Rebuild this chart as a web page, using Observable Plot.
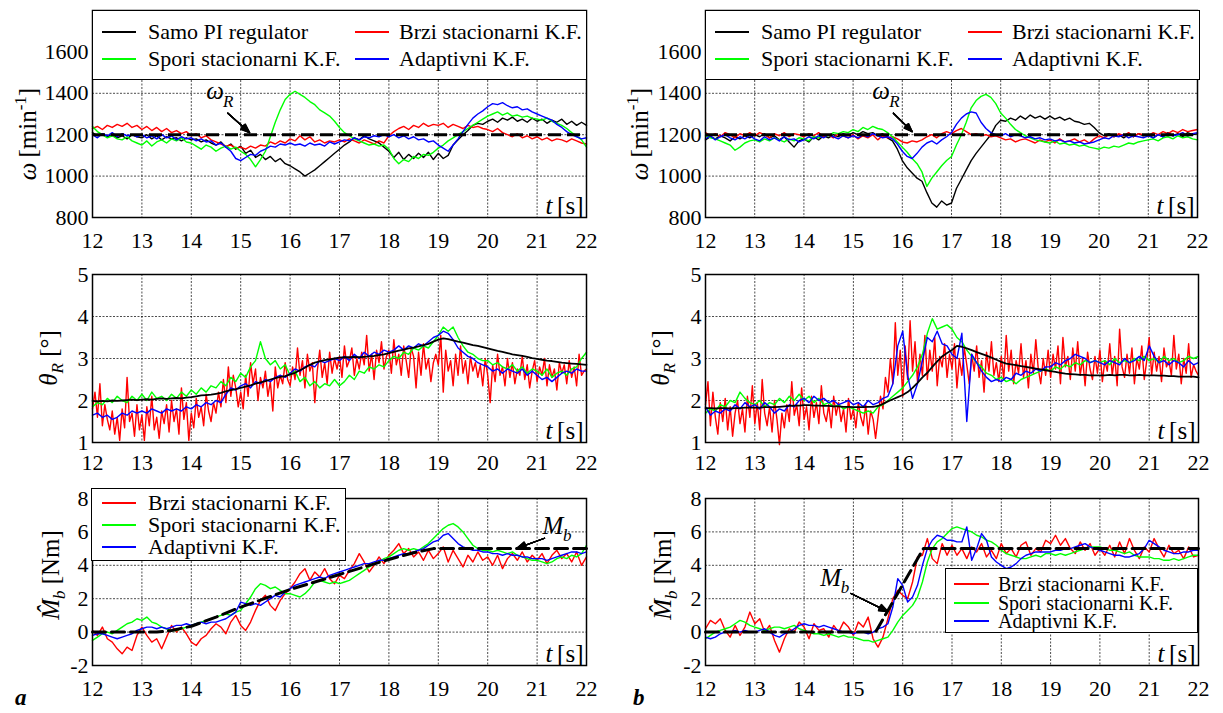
<!DOCTYPE html>
<html><head><meta charset="utf-8">
<script src="https://cdn.jsdelivr.net/npm/d3@7"></script>
<script src="https://cdn.jsdelivr.net/npm/@observablehq/plot@0.6"></script>
<style>
body{margin:0;background:#fff;}
#wrap{position:relative;width:1223px;height:713px;overflow:hidden;font-family:"Liberation Serif","Tinos","DejaVu Serif","Noto Serif",Times,serif;color:#000;background:#fff;}
.leg{position:absolute;background:#fff;border:1.5px solid #000;box-sizing:border-box;}
.item{position:absolute;white-space:nowrap;line-height:0.85;font-size:22px;transform:translateY(-50%);}
.sw{position:absolute;height:0;border-top:2px solid;transform:translateY(-1px);}
.ylab{position:absolute;white-space:nowrap;transform:translate(-50%,-50%) rotate(-90deg);font-size:25px;line-height:1;}
.ylab sub,.ylab sup{font-size:68%;}
.tag{position:absolute;font-weight:bold;font-style:italic;font-size:23px;line-height:1;}
</style></head><body><div id="wrap"></div>
<script>
// ---------- axes / ticks ----------
const xTicks = [12,13,14,15,16,17,18,19,20,21,22];
const omegaTicks = [800,1000,1200,1400,1600];
const thetaTicks = [1,2,3,4,5];
const torqueTicks = [-2,0,2,4,6,8];
const T0 = 12, DT = 0.1, DT_FINE = 0.05;
const omegaRef = 1200;
const legendLabels = ["Samo PI regulator","Brzi stacionarni K.F.","Spori stacionarni K.F.","Adaptivni K.F."];
const colPI = "#000000", colFast = "#ff0000", colSlow = "#00ff00", colAdapt = "#0000ff";

// ---------- (a) omega [min^-1], step 0.1 s ----------
const omegaA_pi = [1210,1195,1205,1190,1200,1185,1195,1180,1200,1190,
1185,1200,1180,1195,1175,1190,1180,1185,1170,1185,
1175,1180,1165,1175,1160,1150,1165,1140,1155,1130,
1145,1110,1125,1090,1105,1080,1095,1070,1085,1060,
1050,1035,1020,1000,1015,1030,1050,1070,1090,1110,
1130,1150,1165,1185,1175,1195,1180,1170,1160,1140,
1120,1090,1115,1080,1105,1085,1110,1090,1115,1080,
1110,1085,1100,1150,1175,1200,1220,1245,1255,1250,
1265,1275,1260,1280,1270,1285,1265,1275,1260,1280,
1265,1275,1255,1270,1260,1275,1250,1265,1245,1260,1245];
const omegaA_fast = [1230,1240,1225,1245,1235,1250,1240,1255,1235,1245,
1225,1240,1220,1235,1215,1230,1210,1220,1205,1215,
1195,1205,1185,1195,1175,1165,1155,1145,1150,1135,
1140,1130,1145,1135,1150,1145,1165,1155,1170,1160,
1180,1170,1195,1175,1190,1165,1175,1160,1170,1165,
1175,1165,1180,1170,1160,1175,1165,1155,1170,1160,
1195,1215,1230,1240,1225,1245,1235,1255,1240,1250,
1245,1255,1235,1250,1240,1230,1245,1235,1240,1230,
1225,1215,1230,1210,1200,1190,1205,1185,1195,1180,
1190,1175,1185,1170,1180,1175,1165,1180,1170,1160,1155];
const omegaA_slow = [1240,1215,1200,1185,1195,1180,1175,1190,1170,1160,
1150,1170,1145,1165,1175,1160,1180,1170,1185,1165,
1160,1145,1130,1150,1140,1120,1135,1145,1130,1140,
1120,1105,1080,1045,1080,1120,1190,1260,1320,1370,
1395,1410,1395,1380,1360,1345,1320,1305,1290,1265,
1235,1210,1195,1180,1170,1160,1150,1155,1145,1150,
1130,1085,1060,1080,1070,1095,1085,1105,1100,1115,
1135,1150,1170,1185,1200,1215,1230,1245,1260,1275,
1290,1300,1310,1295,1305,1290,1295,1285,1290,1280,
1275,1270,1280,1265,1255,1245,1230,1210,1195,1175,1140];
const omegaA_adapt = [1200,1185,1205,1195,1210,1190,1205,1195,1200,1190,
1200,1185,1195,1180,1200,1185,1195,1175,1190,1180,
1185,1170,1180,1165,1170,1150,1160,1140,1120,1085,
1075,1090,1105,1100,1120,1130,1145,1140,1155,1150,
1160,1150,1155,1145,1160,1150,1155,1145,1165,1155,
1165,1175,1170,1185,1175,1190,1185,1195,1190,1200,
1190,1200,1185,1195,1180,1190,1175,1180,1165,1170,
1150,1135,1120,1150,1180,1215,1250,1280,1300,1315,
1335,1350,1345,1355,1340,1330,1335,1320,1325,1310,
1300,1290,1280,1270,1250,1235,1215,1200,1190,1180,1185];

// ---------- (b) omega ----------
const omegaB_pi = [1175,1190,1180,1195,1185,1170,1190,1180,1195,1185,
1200,1190,1205,1185,1195,1175,1190,1165,1140,1170,
1180,1165,1190,1175,1195,1185,1200,1190,1205,1195,
1210,1200,1215,1205,1210,1195,1205,1185,1170,1130,
1075,1040,1015,990,975,920,870,850,880,860,
870,940,985,1030,1075,1110,1140,1170,1200,1245,
1270,1265,1280,1270,1290,1275,1295,1280,1290,1275,
1290,1275,1285,1270,1280,1265,1260,1250,1255,1235,
1210,1195,1205,1190,1200,1185,1200,1190,1205,1195,
1200,1185,1200,1190,1210,1195,1205,1190,1210,1200,1205];
const omegaB_fast = [1210,1195,1205,1190,1210,1200,1185,1205,1195,1210,
1195,1210,1200,1185,1205,1195,1210,1190,1205,1200,
1190,1205,1195,1210,1190,1200,1185,1205,1195,1185,
1200,1180,1195,1185,1200,1175,1195,1185,1190,1180,
1165,1160,1170,1165,1175,1190,1200,1185,1205,1215,
1205,1220,1230,1215,1200,1205,1195,1200,1190,1195,
1185,1175,1180,1165,1175,1180,1170,1160,1175,1165,
1175,1160,1180,1165,1170,1180,1165,1175,1160,1180,
1195,1185,1200,1190,1205,1195,1210,1190,1205,1200,
1195,1210,1200,1215,1205,1220,1210,1225,1215,1220,1225];
const omegaB_slow = [1195,1185,1180,1170,1160,1150,1125,1140,1160,1170,
1175,1165,1180,1170,1185,1175,1165,1180,1170,1185,
1180,1170,1190,1185,1200,1195,1210,1205,1215,1210,
1225,1215,1235,1225,1240,1230,1225,1210,1190,1165,
1140,1115,1085,1060,1020,950,990,1020,1050,1075,
1095,1150,1200,1260,1330,1365,1385,1395,1380,1350,
1305,1280,1250,1225,1210,1195,1185,1175,1170,1165,
1160,1170,1155,1160,1150,1155,1145,1150,1140,1135,
1130,1140,1135,1145,1140,1150,1160,1155,1165,1170,
1175,1180,1170,1185,1190,1180,1195,1185,1190,1180,1175];
const omegaB_adapt = [1180,1195,1175,1190,1200,1185,1175,1190,1180,1195,
1180,1170,1190,1175,1185,1170,1190,1175,1180,1165,
1175,1190,1180,1195,1185,1200,1190,1180,1195,1185,
1195,1185,1200,1190,1205,1195,1185,1190,1180,1155,
1120,1095,1085,1110,1140,1160,1170,1155,1175,1190,
1210,1250,1280,1300,1310,1305,1260,1230,1210,1200,
1195,1205,1190,1200,1195,1185,1190,1180,1185,1175,
1180,1170,1175,1165,1170,1160,1165,1155,1160,1165,
1175,1185,1180,1195,1190,1200,1185,1195,1190,1185,
1195,1185,1200,1190,1205,1195,1200,1210,1195,1205,1210];

// ---------- (a) theta_R [deg] ----------
const thetaA_pi = [1.99,1.98,1.99,1.98,2.00,1.99,2.00,2.01,2.02,2.01,
2.02,2.03,2.02,2.04,2.05,2.04,2.05,2.06,2.05,2.07,
2.08,2.10,2.12,2.13,2.14,2.16,2.18,2.22,2.25,2.27,
2.30,2.33,2.36,2.40,2.43,2.46,2.50,2.53,2.56,2.58,
2.62,2.66,2.72,2.78,2.85,2.90,2.93,2.96,2.98,3.00,
3.02,3.03,3.03,3.04,3.03,3.04,3.05,3.06,3.08,3.10,
3.13,3.16,3.19,3.21,3.24,3.26,3.29,3.32,3.35,3.40,
3.45,3.48,3.46,3.43,3.40,3.38,3.35,3.32,3.30,3.27,
3.24,3.21,3.18,3.16,3.13,3.10,3.08,3.06,3.04,3.01,
2.99,2.97,2.95,2.94,2.92,2.90,2.89,2.88,2.87,2.86,2.85];
const thetaA_fast = [1.80,2.20,1.60,2.40,1.40,1.90,1.55,1.30,1.75,1.20,
1.60,1.05,1.80,1.35,2.55,1.50,1.70,1.15,1.90,1.30,
1.65,1.05,1.85,1.40,2.10,1.30,1.60,1.10,1.75,1.45,
1.90,1.25,2.00,1.50,1.80,1.20,2.30,1.55,1.95,1.05,
1.70,1.35,2.05,1.60,1.85,1.40,2.15,1.75,1.50,1.95,
1.70,2.20,1.85,2.50,1.95,2.80,2.10,2.60,2.30,1.85,
2.20,1.80,2.60,2.10,2.90,2.40,2.75,2.00,2.55,2.30,
2.70,2.10,2.45,1.75,2.80,2.30,2.60,2.40,2.90,2.50,
2.35,2.80,2.50,3.25,2.60,2.95,2.30,3.10,2.70,2.90,
1.95,2.70,3.20,2.55,2.90,2.40,3.15,2.65,3.00,2.75,
3.05,2.55,3.30,2.80,2.95,3.25,2.60,3.00,2.75,3.15,
2.85,3.55,2.70,3.10,2.50,3.20,2.90,3.40,2.75,3.05,
3.20,2.65,3.45,2.85,3.10,2.60,3.30,2.95,2.55,3.25,
3.05,2.30,3.15,2.60,3.35,2.75,3.00,2.45,2.90,3.10,
2.85,3.55,2.20,3.20,2.70,2.95,2.35,3.10,2.60,3.30,
2.65,2.95,2.40,3.05,2.70,2.90,2.55,2.85,2.35,3.00,
2.60,1.95,2.85,2.45,3.10,2.60,2.80,2.35,3.00,2.55,
2.90,2.40,2.75,2.60,3.05,2.50,2.85,2.30,2.70,2.95,
2.45,2.80,2.60,3.00,2.35,2.85,2.55,2.75,2.25,2.90,
2.65,2.85,2.40,2.95,2.55,2.80,2.35,3.10,2.60,2.70,2.75];
const thetaA_slow = [1.85,1.95,1.90,2.05,1.95,2.10,2.00,1.95,2.10,2.00,
2.15,2.00,2.20,2.05,2.10,2.00,2.15,2.05,2.20,2.10,
2.25,2.15,2.30,2.20,2.35,2.30,2.45,2.35,2.55,2.45,
2.65,2.55,2.80,2.95,3.40,3.00,2.85,2.95,2.75,2.85,
2.60,2.70,2.45,2.55,2.35,2.45,2.30,2.40,2.35,2.50,
2.35,2.45,2.60,2.50,2.70,2.65,2.80,2.75,2.85,2.80,
2.95,3.05,3.00,3.15,3.10,3.25,3.20,3.30,3.25,3.40,
3.55,3.75,3.65,3.75,3.50,3.30,3.15,3.10,3.00,2.95,
2.95,2.85,2.90,2.80,2.75,2.85,2.70,2.80,2.65,2.75,
2.70,2.60,2.75,2.55,2.65,2.70,2.60,2.75,2.80,3.00,3.15];
const thetaA_adapt = [1.65,1.70,1.60,1.65,1.55,1.60,1.70,1.65,1.75,1.70,
1.75,1.70,1.80,1.75,1.70,1.80,1.75,1.80,1.75,1.85,
1.80,1.90,1.85,1.95,1.90,2.00,1.95,2.15,2.30,2.25,
2.35,2.40,2.30,2.45,2.40,2.50,2.45,2.55,2.60,2.55,
2.65,2.75,2.70,2.80,2.85,2.80,2.95,2.90,2.95,3.00,
2.95,3.05,2.95,3.10,3.00,3.15,3.05,3.15,3.10,3.20,
3.15,3.20,3.30,3.20,3.30,3.25,3.35,3.30,3.40,3.50,
3.55,3.65,3.60,3.45,3.25,3.15,3.05,3.00,2.90,2.85,
2.80,2.70,2.75,2.65,2.75,2.70,2.65,2.75,2.60,2.70,
2.60,2.50,2.55,2.45,2.55,2.65,2.70,2.65,2.75,2.70,2.70];

// ---------- (b) theta_R ----------
const thetaB_pi = [1.82,1.82,1.81,1.82,1.82,1.81,1.82,1.82,1.83,1.83,
1.83,1.83,1.84,1.84,1.84,1.85,1.86,1.87,1.88,1.88,
1.89,1.89,1.88,1.88,1.87,1.87,1.86,1.86,1.85,1.85,
1.84,1.84,1.84,1.85,1.85,1.87,1.92,1.98,2.03,2.08,
2.13,2.20,2.30,2.42,2.55,2.66,2.80,2.93,3.05,3.13,
3.20,3.30,3.28,3.24,3.20,3.15,3.11,3.07,3.02,2.97,
2.92,2.88,2.86,2.84,2.82,2.80,2.78,2.76,2.74,2.72,
2.70,2.68,2.66,2.64,2.63,2.62,2.61,2.61,2.60,2.60,
2.60,2.60,2.61,2.60,2.61,2.61,2.60,2.60,2.61,2.60,
2.60,2.60,2.59,2.59,2.58,2.58,2.57,2.57,2.57,2.57,2.55];
const thetaB_fast = [1.90,2.45,1.40,2.20,1.60,1.20,1.95,1.50,2.05,1.30,
1.85,1.15,1.70,2.00,1.45,1.80,1.25,2.10,1.60,2.35,
1.45,1.95,1.30,2.50,1.70,1.40,1.85,1.25,2.00,1.55,
0.95,1.70,1.35,1.90,1.50,2.45,1.65,1.90,1.40,2.30,
1.55,1.85,1.30,2.10,1.60,1.95,1.45,2.35,1.70,1.50,
1.90,1.35,2.10,1.65,1.95,1.50,1.80,1.25,2.05,1.55,
1.80,1.35,1.95,1.60,1.40,1.90,1.20,1.75,1.55,1.10,
1.60,2.10,1.80,2.55,2.20,3.00,2.40,3.85,2.60,3.20,
2.10,3.30,2.50,3.90,2.70,3.40,2.45,3.10,2.60,3.55,
2.50,3.20,2.70,3.50,2.35,3.05,2.80,3.35,2.55,3.10,
2.75,3.35,2.30,3.00,2.60,3.25,2.85,2.40,3.10,2.70,
3.30,2.55,2.95,2.20,3.15,2.70,3.40,2.60,2.90,2.45,
3.05,2.50,3.55,2.70,3.20,2.40,2.95,2.65,3.35,2.55,
2.95,2.30,3.10,2.65,3.45,2.75,2.40,3.00,2.60,3.20,
2.55,3.10,2.75,3.30,2.40,3.50,2.80,3.05,2.50,3.25,
2.70,3.40,2.60,3.00,2.35,3.15,2.75,2.50,3.05,2.65,
3.20,2.45,2.95,2.70,3.35,2.60,3.05,2.35,3.70,2.80,
2.55,3.10,2.65,3.25,2.40,3.00,2.75,3.30,2.50,2.95,
3.50,2.60,3.15,2.70,3.05,2.45,3.25,2.80,2.95,2.60,
3.55,2.75,3.10,2.40,3.00,2.65,3.35,2.55,2.85,2.70,2.60];
const thetaB_slow = [1.70,1.80,1.75,1.90,1.85,2.00,1.95,2.20,2.05,1.95,
1.90,2.00,1.85,1.95,1.90,2.05,1.95,2.10,2.00,2.15,
2.00,2.10,1.95,2.05,1.90,1.95,1.85,1.90,1.80,1.85,
1.80,1.75,1.70,1.75,1.70,1.85,1.90,2.00,2.10,2.20,
2.30,2.45,2.60,2.80,3.10,3.60,3.95,3.70,3.75,3.80,
3.70,3.50,3.40,3.20,3.05,2.90,2.80,2.65,2.60,2.50,
2.55,2.45,2.50,2.40,2.50,2.55,2.60,2.65,2.70,2.75,
2.70,2.80,2.75,2.85,2.80,2.90,2.85,2.95,2.90,2.95,
2.90,2.95,2.85,3.00,2.90,2.95,2.90,3.00,2.95,3.05,
2.95,3.00,2.90,3.05,2.95,3.00,2.90,2.95,3.05,3.00,3.05];
const thetaB_adapt = [1.85,1.65,1.75,1.70,1.80,1.75,1.90,1.80,1.95,1.85,
1.90,1.80,1.95,1.85,1.70,1.80,1.75,1.90,1.85,2.00,
2.05,1.95,2.10,2.00,2.05,1.95,2.00,1.90,1.95,2.00,
1.90,1.95,1.85,2.00,1.90,1.95,2.05,2.10,2.40,3.30,
3.65,2.60,2.05,2.40,2.95,3.50,3.40,3.65,3.35,3.30,
3.10,3.00,3.60,1.50,3.10,2.90,2.70,2.55,2.45,2.50,
2.45,2.55,2.50,2.65,2.60,2.70,2.65,2.75,2.70,2.80,
2.80,2.90,2.85,2.95,3.00,3.10,3.05,3.00,2.90,2.95,
2.90,2.85,2.95,2.90,2.85,3.00,2.90,2.95,3.05,2.95,
3.30,3.05,2.90,2.95,2.85,2.95,2.90,2.80,2.95,2.85,2.90];

// ---------- (a) estimated load torque M_b [Nm] ----------
const torqueA_fast = [0.10,-0.20,0.30,-0.40,-0.60,-1.00,-1.30,-0.90,-1.10,-0.20,
0.30,-0.20,-0.60,-0.40,-1.00,-0.30,0.40,0.00,0.30,-0.10,
-0.60,-0.80,-0.40,-0.20,0.20,0.50,0.30,-0.10,0.60,1.00,
0.40,0.10,0.60,1.30,1.90,2.20,1.60,1.30,1.90,2.30,
2.60,3.00,3.50,3.80,3.10,3.60,3.30,3.80,3.20,2.90,
3.40,3.20,3.70,4.10,4.70,4.20,3.60,4.00,4.50,4.10,
4.60,4.90,5.30,4.70,5.00,4.50,4.80,4.30,4.90,4.40,
4.70,5.10,4.20,4.90,4.40,3.90,4.60,4.20,4.80,4.30,
4.50,4.00,4.60,3.80,4.40,4.70,4.30,4.80,4.20,4.60,
4.30,4.70,4.10,4.60,4.90,4.40,4.70,4.20,4.80,4.00,4.50];
const torqueA_slow = [-0.50,-0.30,-0.10,0.00,-0.10,0.10,0.30,0.50,0.60,0.80,
0.70,0.90,0.60,0.50,0.30,0.20,0.10,0.10,0.20,0.30,
0.40,0.50,0.60,0.70,0.80,0.90,1.00,1.10,1.00,1.20,
1.30,1.70,2.10,2.60,2.90,2.80,2.60,2.70,2.50,2.30,
2.30,2.20,2.10,2.30,2.60,3.00,3.10,3.00,2.90,3.00,
2.90,3.00,3.10,3.30,3.50,3.70,3.90,4.10,4.20,4.40,
4.50,4.70,4.90,5.00,4.90,5.00,4.90,5.10,5.30,5.60,
5.90,6.20,6.40,6.50,6.30,6.00,5.60,5.20,5.00,4.90,
4.90,4.80,4.90,4.80,4.70,4.80,4.60,4.50,4.40,4.30,
4.30,4.20,4.10,4.20,4.40,4.50,4.40,4.60,4.50,4.70,5.20];
const torqueA_adapt = [-0.20,-0.10,-0.10,-0.20,-0.30,-0.40,-0.30,-0.20,-0.10,0.10,
0.20,0.30,0.30,0.20,0.30,0.20,0.30,0.40,0.40,0.50,
0.40,0.50,0.60,0.50,0.60,0.60,0.70,0.80,1.00,1.20,
1.80,1.70,1.60,1.70,1.60,1.80,2.00,2.20,2.10,2.40,
2.60,2.80,2.90,3.00,3.10,3.20,3.30,3.20,3.40,3.50,
3.60,3.70,3.80,3.90,4.00,4.10,4.10,4.20,4.30,4.30,
4.40,4.50,4.60,4.70,4.70,4.80,4.90,5.00,5.20,5.40,
5.50,5.80,5.90,5.60,5.30,5.10,5.00,4.90,4.90,4.80,
4.80,4.70,4.70,4.60,4.70,4.60,4.60,4.50,4.50,4.40,
4.40,4.40,4.30,4.40,4.50,4.60,4.70,4.80,4.80,4.70,4.80];
const torqueRefA_t = [12, 13.3, 13.6, 14, 14.5, 15, 16, 17, 18, 18.5, 18.9, 22];
const torqueRefA_v = [0, 0, 0.1, 0.35, 0.9, 1.5, 2.55, 3.45, 4.35, 4.75, 5, 5];

// ---------- (b) estimated load torque ----------
const torqueB_fast = [0.20,0.70,0.50,0.80,0.10,-0.30,0.40,-0.20,0.30,1.20,
0.50,0.80,0.00,0.40,-0.50,-1.20,-0.40,0.20,0.00,0.60,
0.30,-0.40,0.50,0.10,0.20,-0.30,0.40,0.00,0.60,0.30,
-0.20,0.60,0.30,0.90,-0.40,-0.90,-0.30,0.80,2.00,2.50,
2.20,2.00,3.00,4.50,4.60,5.60,4.40,4.10,5.30,4.60,
5.20,4.60,5.00,4.40,5.10,4.80,5.30,4.50,4.90,4.40,
5.30,4.70,5.00,4.50,5.20,5.40,4.60,5.00,4.80,5.50,
5.30,5.80,5.20,5.60,5.00,4.70,5.40,4.90,5.30,4.60,
5.00,4.60,5.20,4.50,5.40,4.70,5.60,4.90,4.40,5.10,
4.80,5.60,5.00,4.50,5.20,4.70,4.90,4.40,5.10,4.50,4.60];
const torqueB_slow = [-0.40,-0.20,0.00,0.10,0.20,0.30,0.50,0.70,0.60,0.40,
0.30,0.20,0.10,0.20,0.30,0.30,0.20,0.30,0.40,0.20,
0.10,0.00,-0.10,-0.10,-0.20,-0.10,-0.20,-0.30,-0.20,-0.30,
-0.30,-0.40,-0.50,-0.50,-0.60,-0.50,-0.40,-0.30,0.10,0.60,
1.00,1.30,1.60,2.10,3.00,4.20,5.00,5.40,5.60,5.90,
6.20,6.30,6.20,6.10,6.00,5.80,5.70,5.50,5.40,5.20,
4.90,4.70,4.60,4.50,4.40,4.40,4.50,4.60,4.50,4.70,
4.70,4.60,4.70,4.60,4.70,4.80,4.90,5.00,5.10,5.10,
5.10,5.00,4.90,4.90,4.80,4.70,4.80,4.60,4.50,4.50,
4.50,4.40,4.40,4.30,4.30,4.40,4.30,4.40,4.50,4.60,4.60];
const torqueB_adapt = [-0.30,-0.40,-0.30,-0.10,0.00,0.00,0.10,0.00,0.10,0.00,
0.00,0.10,0.20,0.00,-0.20,-0.30,-0.10,0.00,0.20,0.40,
0.50,0.40,0.40,0.30,0.40,0.30,0.20,0.10,0.00,0.00,
-0.10,0.00,0.00,-0.10,0.00,0.20,0.30,0.50,1.50,3.20,
2.80,1.80,2.10,2.80,4.00,5.00,5.50,5.80,5.70,5.50,
5.50,5.40,5.40,6.30,4.30,5.00,5.90,5.50,4.50,4.20,
4.00,3.80,3.90,4.10,4.40,4.60,4.70,4.80,4.80,4.80,
4.80,4.90,4.90,5.00,5.00,5.10,5.20,5.30,5.10,5.00,
4.90,4.80,4.70,4.60,4.60,4.50,4.50,4.60,4.70,5.00,
5.50,5.30,5.10,4.90,4.80,4.70,4.70,4.80,4.80,4.90,4.90];
const torqueRefB_t = [12, 15.45, 16.42, 22];
const torqueRefB_v = [0, 0, 5, 5];

// ---------- annotations [x, y] and arrows [x1, y1, x2, y2] ----------
const omegaLabelA = [14.48, 1371], omegaArrowA = [14.74, 1304, 15.18, 1210];
const omegaLabelB = [15.57, 1371], omegaArrowB = [15.82, 1304, 16.20, 1215];
const torqueLabelA = [21.32, 5.9], torqueArrowA = [21.15, 5.62, 20.59, 5.02];
const torqueLabelB = [14.54, 2.79], torqueArrowB = [14.95, 2.31, 15.70, 1.23];

// ---------- helpers ----------
const wrap = document.getElementById("wrap");
const FONT = '"Liberation Serif","Tinos","DejaVu Serif","Noto Serif",Times,serif';

function series(values, dt, color, w = 1.4) {
  return Plot.line(values, {x: (d, i) => T0 + i * dt, y: d => d, stroke: color, strokeWidth: w});
}
function arrowMarks(a) {
  const out = [];
  for (const ang of [6, 14, 22, 30, 38, 44]) {
    out.push(Plot.arrow([a], {x1: d => d[0], y1: d => d[1], x2: d => d[2], y2: d => d[3],
      stroke: "#000", strokeWidth: 1.3, headLength: 11, headAngle: ang}));
  }
  return out;
}
function subLabel(pos, main, sub, subDx, subDy) {
  return [
    Plot.text([pos], {x: d => d[0], y: d => d[1], text: () => main, fontStyle: "italic", fontSize: 25, fontFamily: FONT, lineAnchor: "bottom", textAnchor: "middle"}),
    Plot.text([pos], {x: d => d[0], y: d => d[1], text: () => sub, fontStyle: "italic", fontSize: 17, fontFamily: FONT, lineAnchor: "bottom", textAnchor: "start", dx: subDx, dy: subDy})
  ];
}
const gridStyle = {stroke: "#000", strokeOpacity: 0.7, strokeDasharray: "2,1.5", strokeWidth: 1};

function panel(o) {
  const svg = Plot.plot({
    width: o.width, height: o.height,
    marginLeft: o.mL, marginRight: o.mR, marginTop: o.mT, marginBottom: o.mB,
    style: {fontFamily: FONT, fontSize: "22px", background: "transparent", color: "#000", overflow: "visible"},
    x: {domain: [12, 22], label: null},
    y: {domain: o.yDomain, label: null},
    marks: [
      Plot.gridX(xTicks, gridStyle),
      Plot.gridY(o.yTicks, gridStyle),
      ...o.marks,
      Plot.frame({stroke: "#000", strokeWidth: 1.5}),
      Plot.axisX(xTicks, {tickSize: 0, tickPadding: o.xPad, fontSize: 22, fontFamily: FONT, tickFormat: d => String(d), label: null}),
      Plot.axisY(o.yTicks, {tickSize: 0, tickPadding: 4, fontSize: 22, fontFamily: FONT, tickFormat: d => String(d), label: null}),
      Plot.text(["[s]"], {text: d => d, frameAnchor: "bottom-right", dx: -3, dy: -4, textAnchor: "end", lineAnchor: "bottom", fontSize: 25, fontFamily: FONT}),
      Plot.text(["t"], {text: d => d, frameAnchor: "bottom-right", dx: -34, dy: -4, textAnchor: "end", lineAnchor: "bottom", fontSize: 25, fontStyle: "italic", fontFamily: FONT})
    ]
  });
  svg.setAttribute("font-family", FONT);
  svg.style.fontFamily = FONT;
  svg.querySelectorAll("text, tspan").forEach(t => { t.style.fontFamily = FONT; });
  svg.style.position = "absolute";
  svg.style.left = o.left + "px";
  svg.style.top = o.top + "px";
  wrap.appendChild(svg);
}

function legend(box, rows, fs) {
  const d = document.createElement("div");
  d.className = "leg";
  Object.assign(d.style, {left: box[0] + "px", top: box[1] + "px", width: (box[2] - box[0]) + "px", height: (box[3] - box[1]) + "px"});
  wrap.appendChild(d);
  for (const r of rows) {
    const s = document.createElement("div");
    s.className = "sw";
    Object.assign(s.style, {left: r.x1 + "px", top: r.y + "px", width: (r.x2 - r.x1) + "px", borderTopColor: r.color});
    wrap.appendChild(s);
    const t = document.createElement("div");
    t.className = "item";
    t.textContent = r.label;
    Object.assign(t.style, {left: r.tx + "px", top: r.y + "px", fontSize: fs + "px"});
    wrap.appendChild(t);
  }
}
function html(cls, x, y, inner) {
  const e = document.createElement("div");
  e.className = cls;
  e.innerHTML = inner;
  e.style.left = x + "px";
  e.style.top = y + "px";
  wrap.appendChild(e);
}

// ---------- top row: omega ----------
const rowTop = {top: 0, height: 262, mT: 10, mB: 45, yDomain: [800, 1800], yTicks: omegaTicks, xPad: 15};
panel({...rowTop, left: 0, width: 600, mL: 92, mR: 14, marks: [
  series(omegaA_pi, DT, colPI), series(omegaA_fast, DT, colFast), series(omegaA_slow, DT, colSlow), series(omegaA_adapt, DT, colAdapt),
  Plot.ruleY([omegaRef], {stroke: "#000", strokeWidth: 3, strokeDasharray: "13,6"}),
  ...subLabel(omegaLabelA, "ω", "R", 8, 8), ...arrowMarks(omegaArrowA)
]});
panel({...rowTop, left: 610, width: 600, mL: 95, mR: 13, marks: [
  series(omegaB_pi, DT, colPI), series(omegaB_fast, DT, colFast), series(omegaB_slow, DT, colSlow), series(omegaB_adapt, DT, colAdapt),
  Plot.ruleY([omegaRef], {stroke: "#000", strokeWidth: 3, strokeDasharray: "13,6"}),
  ...subLabel(omegaLabelB, "ω", "R", 8, 8), ...arrowMarks(omegaArrowB)
]});

// ---------- middle row: theta ----------
const rowMid = {top: 250, height: 232, mT: 24, mB: 40, yDomain: [1, 5], yTicks: thetaTicks, xPad: 12};
panel({...rowMid, left: 0, width: 600, mL: 92, mR: 14, marks: [
  series(thetaA_fast, DT_FINE, colFast), series(thetaA_slow, DT, colSlow), series(thetaA_adapt, DT, colAdapt), series(thetaA_pi, DT, colPI, 1.8)
]});
panel({...rowMid, left: 610, width: 600, mL: 95, mR: 12, marks: [
  series(thetaB_fast, DT_FINE, colFast), series(thetaB_slow, DT, colSlow), series(thetaB_adapt, DT, colAdapt), series(thetaB_pi, DT, colPI, 1.8)
]});

// ---------- bottom row: torque ----------
const rowBot = {top: 470, height: 243, mT: 28, mB: 48, yDomain: [-2, 8], yTicks: torqueTicks, xPad: 15};
panel({...rowBot, left: 0, width: 600, mL: 92, mR: 14, marks: [
  series(torqueA_fast, DT, colFast), series(torqueA_slow, DT, colSlow), series(torqueA_adapt, DT, colAdapt),
  Plot.line(torqueRefA_t, {x: d => d, y: (d, i) => torqueRefA_v[i], stroke: "#000", strokeWidth: 3, strokeDasharray: "13,6"}),
  ...subLabel(torqueLabelA, "M", "b", 10, 7), ...arrowMarks(torqueArrowA)
]});
panel({...rowBot, left: 610, width: 600, mL: 95, mR: 12, marks: [
  series(torqueB_fast, DT, colFast), series(torqueB_slow, DT, colSlow), series(torqueB_adapt, DT, colAdapt),
  Plot.line(torqueRefB_t, {x: d => d, y: (d, i) => torqueRefB_v[i], stroke: "#000", strokeWidth: 3, strokeDasharray: "13,6"}),
  ...subLabel(torqueLabelB, "M", "b", 10, 7), ...arrowMarks(torqueArrowB)
]});

// ---------- legends ----------
const topColors = [colPI, colFast, colSlow, colAdapt];
for (const dx of [0, 613]) {
  legend([92 + dx, 10, 587 + dx, 80], [
    {label: legendLabels[0], color: topColors[0], x1: 102 + dx, x2: 136 + dx, tx: 148 + dx, y: 32},
    {label: legendLabels[1], color: topColors[1], x1: 355 + dx, x2: 389 + dx, tx: 399 + dx, y: 32},
    {label: legendLabels[2], color: topColors[2], x1: 102 + dx, x2: 136 + dx, tx: 148 + dx, y: 59},
    {label: legendLabels[3], color: topColors[3], x1: 355 + dx, x2: 389 + dx, tx: 399 + dx, y: 59}
  ], 22);
}
legend([91, 488, 346, 561], [
  {label: legendLabels[1], color: colFast, x1: 102, x2: 136, tx: 148, y: 503},
  {label: legendLabels[2], color: colSlow, x1: 102, x2: 136, tx: 148, y: 525},
  {label: legendLabels[3], color: colAdapt, x1: 102, x2: 136, tx: 148, y: 547}
], 22);
legend([945, 568, 1198, 633], [
  {label: legendLabels[1], color: colFast, x1: 954, x2: 989, tx: 998, y: 584},
  {label: legendLabels[2], color: colSlow, x1: 954, x2: 989, tx: 998, y: 603},
  {label: legendLabels[3], color: colAdapt, x1: 954, x2: 989, tx: 998, y: 621}
], 20);

// ---------- axis titles & panel tags ----------
for (const dx of [0, 612]) {
  html("ylab", 26 + dx, 134, '<i>ω</i>&thinsp;[min<sup>-1</sup>]');
  html("ylab", 51 + dx, 358, '<i>θ</i><sub><i>R</i></sub> [°]');
  html("ylab", 53 + dx, 575, '<i>M\u0302</i><sub><i>b</i></sub> [Nm]');
}
html("tag", 15, 686, "a");
html("tag", 633, 686, "b");
</script></body></html>
